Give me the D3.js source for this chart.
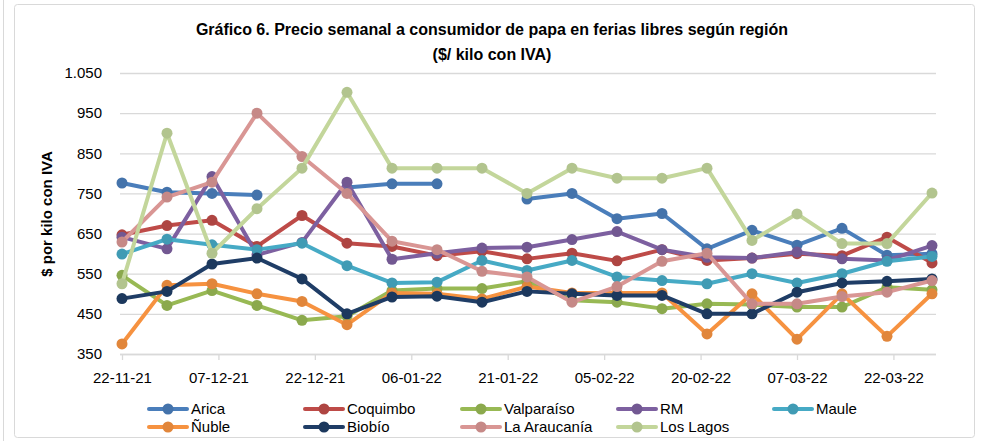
<!DOCTYPE html>
<html>
<head>
<meta charset="utf-8">
<script src="https://cdn.jsdelivr.net/npm/d3@7"></script>
<style>
  body { margin: 0; background: #fff; }
  text { font-family: "Liberation Sans Narrow", "Liberation Sans", sans-serif; fill: #000; }
</style>
</head>
<body>
<div id="chart"></div>
<script>
/*global d3*/
// semanas (lunes) y valores por región
var weeks = ["2021-11-22","2021-11-29","2021-12-06","2021-12-13","2021-12-20","2021-12-27","2022-01-03",
  "2022-01-10","2022-01-17","2022-01-24","2022-01-31","2022-02-07","2022-02-14","2022-02-21","2022-02-28",
  "2022-03-07","2022-03-14","2022-03-21","2022-03-28"];
var tickDates = ["2021-11-22","2021-12-07","2021-12-22","2022-01-06","2022-01-21","2022-02-05","2022-02-20","2022-03-07","2022-03-22"];
var yTicks = [350, 450, 550, 650, 750, 850, 950, 1050];

var regiones = ["Arica", "Coquimbo", "Valparaíso", "RM", "Maule", "Ñuble", "Biobío", "La Araucanía", "Los Lagos"];
var colores = ["#4a7ebb", "#be4b48", "#98b954", "#7d60a0", "#46aac5", "#f69240", "#1f3d66", "#d99694", "#c3d69b"];

var arica      = [776, 753, 750, 746, null, 765, 774, 774, null, 736, 750, 687, 700, 612, 658, 621, 663, 596, 600];
var coquimbo   = [647, 670, 683, 618, 695, 626, 618, 595, 606, 587, 601, 582, 610, 583, 589, 600, 595, 641, 577];
var valparaiso = [546, 471, 508, 471, 434, 444, 508, 513, 513, 531, 484, 479, 463, 475, 473, 467, 467, 516, 510];
var rm         = [641, 612, 792, 597, 628, 778, 586, 601, 614, 616, 635, 655, 610, 591, 589, 604, 587, 583, 620];
var maule      = [599, 636, 622, 610, 626, 570, 527, 529, 583, 558, 583, 542, 533, 525, 550, 527, 550, 581, 593];
var nuble      = [375, 521, 525, 500, 481, 423, 502, 500, 487, 518, 502, 502, 502, 400, 500, 387, 500, 394, 500];
var biobio     = [488, 506, 574, 589, 537, 450, 492, 494, 479, 506, 500, 496, 496, 450, 450, 504, 527, 531, 537];
var araucania  = [629, 741, 778, 950, 842, 750, 631, 610, 556, 542, 479, 518, 581, 601, 475, 475, 493, 504, 533];
var losLagos   = [525, 900, 601, 712, 813, 1002, 813, 813, 813, 750, 813, 788, 788, 813, 633, 699, 625, 625, 751];

var valores = [arica, coquimbo, valparaiso, rm, maule, nuble, biobio, araucania, losLagos];

var totalWidth = 983, totalHeight = 441;
var parse = d3.timeParse("%Y-%m-%d");
var fechas = weeks.map(parse);

var x = d3.scaleTime()
    .domain([fechas[0], fechas[fechas.length - 1]])
    .range([122, 932]);
var y = d3.scaleLinear()
    .domain([350, 1050])
    .range([354, 73]);

var svg = d3.select("#chart").append("svg")
    .attr("width", totalWidth)
    .attr("height", totalHeight);

// marco
svg.append("line")
    .attr("x1", 3.5).attr("x2", 3.5).attr("y1", 0).attr("y2", totalHeight)
    .attr("stroke", "#d9d9d9");
svg.append("rect")
    .attr("x", 14.5).attr("y", 4.5)
    .attr("width", 960).attr("height", 433)
    .attr("rx", 3)
    .attr("fill", "#fff")
    .attr("stroke", "#d9d9d9");

// título
svg.append("text")
    .attr("x", 492).attr("y", 35)
    .style("text-anchor", "middle")
    .style("font-weight", "bold")
    .style("font-size", "16px")
    .text("Gráfico 6. Precio semanal a consumidor de papa en ferias libres según región");
svg.append("text")
    .attr("x", 492).attr("y", 60)
    .style("text-anchor", "middle")
    .style("font-weight", "bold")
    .style("font-size", "16px")
    .text("($/ kilo con IVA)");

// rejilla y eje y
var yAxis = svg.append("g")
    .attr("transform", "translate(120,0)")
    .call(d3.axisLeft(y).tickValues(yTicks).tickSize(-816).tickPadding(18)
        .tickFormat(function(d) { return d3.format(",")(d).replace(",", "."); }));
yAxis.select(".domain").remove();
yAxis.selectAll(".tick line").attr("stroke", "#d9d9d9").attr("stroke-width", 1.3);
yAxis.selectAll(".tick text").style("font-size", "15px").style("font-family", "Liberation Sans Narrow, Liberation Sans, sans-serif");

svg.append("text")
    .attr("transform", "translate(52,214) rotate(-90)")
    .style("text-anchor", "middle")
    .style("font-weight", "bold")
    .style("font-size", "15px")
    .text("$ por kilo con IVA");

// eje x
var xAxis = svg.append("g")
    .attr("transform", "translate(0,354)")
    .call(d3.axisBottom(x).tickValues(tickDates.map(parse)).tickSize(6).tickPadding(12)
        .tickFormat(d3.timeFormat("%d-%m-%y")));
xAxis.select(".domain").attr("d", "M120,0.5H936").attr("stroke", "#d9d9d9").attr("stroke-width", 1.3);
xAxis.selectAll(".tick line").attr("stroke", "#d9d9d9").attr("stroke-width", 1.3);
xAxis.selectAll(".tick text").style("font-size", "15px").style("font-family", "Liberation Sans Narrow, Liberation Sans, sans-serif");

// series
var linea = d3.line()
    .defined(function(d) { return d != null; })
    .x(function(d, i) { return x(fechas[i]); })
    .y(function(d) { return y(d); });

regiones.forEach(function(r, k) {
    var g = svg.append("g");
    g.append("path")
        .datum(valores[k])
        .attr("fill", "none")
        .attr("stroke", colores[k])
        .attr("stroke-width", 4)
        .attr("stroke-linejoin", "round")
        .attr("stroke-linecap", "round")
        .attr("d", linea);
    g.selectAll("circle")
        .data(valores[k].map(function(v, i) { return {v: v, i: i}; }).filter(function(d) { return d.v != null; }))
        .join("circle")
        .attr("cx", function(d) { return x(fechas[d.i]); })
        .attr("cy", function(d) { return y(d.v); })
        .attr("r", 5.5)
        .attr("fill", d3.color(colores[k]).darker(0.25));
});

// leyenda
var colX = [168, 324, 481, 637, 793];
var leyenda = svg.append("g").selectAll("g")
    .data(regiones)
    .join("g")
    .attr("transform", function(d, i) { return "translate(" + colX[i % 5] + "," + (409 + Math.floor(i / 5) * 18) + ")"; });
leyenda.append("line")
    .attr("x1", -19).attr("x2", 19)
    .attr("stroke", function(d, i) { return colores[i]; })
    .attr("stroke-width", 4)
    .attr("stroke-linecap", "round");
leyenda.append("circle")
    .attr("r", 5.5)
    .attr("fill", function(d, i) { return d3.color(colores[i]).darker(0.25); });
leyenda.append("text")
    .attr("x", 23)
    .attr("dy", "0.35em")
    .style("font-size", "15px")
    .text(function(d) { return d; });
</script>
</body>
</html>
